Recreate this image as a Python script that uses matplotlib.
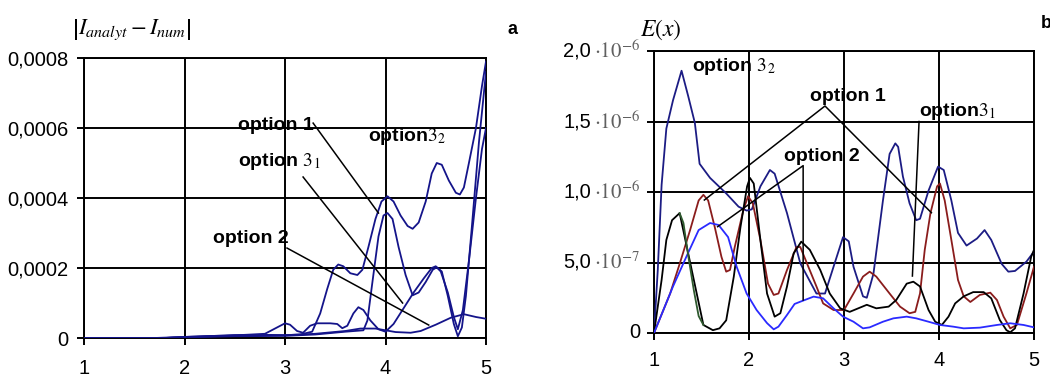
import matplotlib
matplotlib.use("Agg")
import matplotlib.pyplot as plt
import matplotlib.transforms as mtransforms

plt.rcParams['font.family'] = ['Liberation Sans', 'DejaVu Sans']
plt.rcParams['mathtext.fontset'] = 'stix'

# ---------------- panel a data (values in units of 1e-4) ----------------
a_x_opt32 = [1.0, 1.8, 2.0, 2.3, 2.6, 2.8, 3.0, 3.15, 3.27, 3.35, 3.42, 3.48, 3.53, 3.58, 3.65,
             3.72, 3.77, 3.83, 3.9, 3.96, 4.02, 4.08, 4.15, 4.22, 4.27, 4.33, 4.4, 4.46, 4.51,
             4.56, 4.63, 4.7, 4.74, 4.78, 4.83, 4.9, 4.96, 5.0]
a_y_opt32 = [0, 0, 0.03, 0.06, 0.08, 0.09, 0.08, 0.1, 0.18, 0.7, 1.4, 1.95, 2.1, 2.05, 1.85,
             1.8, 1.95, 2.6, 3.4, 3.9, 4.05, 3.9, 3.5, 3.2, 3.12, 3.3, 3.9, 4.7, 5.0,
             4.95, 4.5, 4.15, 4.1, 4.3, 5.0, 6.0, 7.2, 7.9]

a_x_opt1 = [1.0, 1.8, 2.0, 2.5, 3.0, 3.3, 3.6, 3.78, 3.82, 3.87, 3.93, 3.98, 4.02, 4.07, 4.13,
            4.2, 4.27, 4.33, 4.4, 4.47, 4.51, 4.56, 4.62, 4.68, 4.72, 4.76, 4.8, 4.86, 4.93, 5.0]
a_y_opt1 = [0, 0, 0.02, 0.05, 0.06, 0.1, 0.18, 0.22, 0.5, 1.6, 2.9, 3.5, 3.57, 3.4, 2.6,
            1.8, 1.22, 1.3, 1.6, 1.95, 2.02, 1.9, 1.2, 0.4, 0.05, 0.3, 1.2, 3.2, 5.6, 7.6]

a_x_opt31 = [1.0, 1.8, 2.0, 2.4, 2.8, 2.92, 3.0, 3.05, 3.12, 3.18, 3.25, 3.32, 3.45, 3.52, 3.57,
             3.62, 3.68, 3.73, 3.78, 3.85, 3.93, 4.0, 4.08, 4.18, 4.28, 4.38, 4.46, 4.5, 4.55,
             4.62, 4.68, 4.72, 4.77, 4.83, 4.9, 4.96, 5.0]
a_y_opt31 = [0, 0, 0.02, 0.06, 0.12, 0.3, 0.42, 0.38, 0.2, 0.15, 0.35, 0.42, 0.42, 0.4, 0.28,
             0.35, 0.7, 0.88, 0.8, 0.5, 0.25, 0.18, 0.4, 0.85, 1.3, 1.7, 2.0, 2.05, 1.9,
             1.3, 0.6, 0.25, 0.8, 2.2, 4.0, 5.4, 6.0]

a_x_opt2 = [1.0, 1.7, 2.0, 2.5, 3.0, 3.3, 3.6, 3.75, 3.9, 4.0, 4.1, 4.25, 4.35, 4.5, 4.65, 4.78, 4.9, 5.0]
a_y_opt2 = [0, 0, 0.03, 0.08, 0.08, 0.12, 0.2, 0.27, 0.27, 0.22, 0.17, 0.15, 0.2, 0.38, 0.58, 0.68, 0.6, 0.55]

a_yticks = [0, 0.0002, 0.0004, 0.0006, 0.0008]
a_yticklabels = ['0', '0,0002', '0,0004', '0,0006', '0,0008']
xticks = [1, 2, 3, 4, 5]

# ---------------- panel b data (values in units of 1e-6) ----------------
b_x_opt32 = [1.0, 1.04, 1.08, 1.13, 1.2, 1.29, 1.36, 1.43, 1.48, 1.59, 1.76, 1.89, 1.975, 2.03,
             2.12, 2.22, 2.27, 2.40, 2.54, 2.71, 2.80, 2.89, 2.99, 3.05, 3.10, 3.20, 3.24, 3.31,
             3.41, 3.48, 3.54, 3.57, 3.62, 3.69, 3.76, 3.80, 3.89, 3.99, 4.05, 4.13, 4.20, 4.29,
             4.40, 4.48, 4.55, 4.66, 4.73, 4.80, 4.92, 5.0]
b_y_opt32 = [0, 0.45, 1.05, 1.45, 1.65, 1.86, 1.68, 1.49, 1.2, 1.1, 0.99, 0.896, 0.868, 0.877,
             1.04, 1.156, 1.13, 0.85, 0.494, 0.28, 0.28, 0.47, 0.68, 0.65, 0.47, 0.26, 0.25, 0.42,
             0.94, 1.27, 1.345, 1.32, 1.11, 0.92, 0.80, 0.81, 1.01, 1.18, 1.156, 0.94, 0.71, 0.62,
             0.67, 0.73, 0.66, 0.49, 0.435, 0.44, 0.506, 0.577]

b_x_opt1 = [1.0, 1.17, 1.27, 1.38, 1.47, 1.52, 1.57, 1.64, 1.71, 1.76, 1.80, 1.85, 1.94, 1.99,
            2.04, 2.12, 2.20, 2.26, 2.31, 2.40, 2.50, 2.54, 2.61, 2.71, 2.78, 2.89, 3.0, 3.10,
            3.20, 3.27, 3.34, 3.48, 3.59, 3.69, 3.75, 3.80, 3.85, 3.91, 3.98, 4.01, 4.06, 4.13,
            4.20, 4.26, 4.33, 4.43, 4.54, 4.61, 4.68, 4.75, 4.82, 4.92, 5.0]
b_y_opt1 = [0, 0.28, 0.49, 0.73, 0.94, 0.98, 0.94, 0.75, 0.54, 0.435, 0.447, 0.61, 0.87, 0.97,
            0.92, 0.66, 0.35, 0.27, 0.28, 0.447, 0.61, 0.61, 0.494, 0.33, 0.21, 0.163, 0.163, 0.28,
            0.40, 0.435, 0.40, 0.28, 0.187, 0.14, 0.15, 0.28, 0.59, 0.85, 1.04, 1.06, 0.94, 0.66,
            0.376, 0.26, 0.22, 0.27, 0.286, 0.234, 0.116, 0.033, 0.057, 0.28, 0.47]

b_x_opt31_green = [1.27, 1.31, 1.36, 1.42, 1.47, 1.52]
b_y_opt31_green = [0.85, 0.78, 0.55, 0.3, 0.12, 0.057]

b_x_opt31 = [1.0, 1.08, 1.13, 1.19, 1.27, 1.52, 1.62, 1.69, 1.76, 1.84, 1.91, 1.98, 2.01, 2.05,
             2.12, 2.19, 2.27, 2.33, 2.40, 2.47, 2.55, 2.64, 2.75, 2.85, 2.96, 3.06, 3.15, 3.24,
             3.34, 3.47, 3.55, 3.66, 3.73, 3.80, 3.89, 3.96, 4.03, 4.10, 4.17, 4.26, 4.36, 4.47,
             4.55, 4.64, 4.71, 4.75, 4.80, 4.89, 4.97, 5.0]
b_y_opt31 = [0, 0.376, 0.66, 0.80, 0.85, 0.057, 0.02, 0.033, 0.09, 0.4, 0.75, 1.04, 1.1, 1.06,
             0.66, 0.28, 0.116, 0.14, 0.33, 0.565, 0.648, 0.59, 0.447, 0.28, 0.175, 0.15, 0.175, 0.2,
             0.175, 0.187, 0.234, 0.35, 0.364, 0.33, 0.163, 0.08, 0.057, 0.116, 0.21, 0.26, 0.29, 0.29,
             0.246, 0.092, 0.02, 0.005, 0.033, 0.28, 0.54, 0.59]

b_x_opt2 = [1.0, 1.20, 1.34, 1.47, 1.59, 1.68, 1.78, 1.87, 1.975, 2.08, 2.19, 2.26, 2.31, 2.40,
            2.48, 2.54, 2.68, 2.78, 2.89, 2.99, 3.10, 3.20, 3.27, 3.41, 3.52, 3.66, 3.76, 3.89,
            4.01, 4.15, 4.26, 4.43, 4.61, 4.75, 4.89, 5.0]
b_y_opt2 = [0, 0.33, 0.54, 0.73, 0.78, 0.766, 0.68, 0.47, 0.28, 0.163, 0.07, 0.026, 0.045, 0.128,
            0.206, 0.222, 0.258, 0.246, 0.175, 0.116, 0.08, 0.033, 0.04, 0.08, 0.104, 0.116, 0.104, 0.08,
            0.057, 0.045, 0.033, 0.038, 0.057, 0.069, 0.057, 0.04]

b_yticks = [0, 0.5e-6, 1.0e-6, 1.5e-6, 2.0e-6]
b_ytick_mant = ['0', '5,0', '1,0', '1,5', '2,0']
b_ytick_exp = ['', r'$\cdot10^{-7}$', r'$\cdot10^{-6}$', r'$\cdot10^{-6}$', r'$\cdot10^{-6}$']

NAVY = '#14148a'
DARKBLUE_B = '#1c1c84'
DARKRED = '#8a1c1c'
BLUE = '#2a2aff'
GREEN = '#2e5a2e'

fig = plt.figure(figsize=(10.5, 3.9), dpi=100)
axa = fig.add_axes([84/1050, 1-338/390, (486-84)/1050, (338-58)/390])
axb = fig.add_axes([654/1050, 1-333/390, (1034-654)/1050, (333-51)/390])

def style(ax, yt, ymax):
    ax.set_xlim(1, 5)
    ax.set_ylim(0, ymax)
    ax.set_xticks(xticks)
    ax.set_xticklabels([str(v) for v in xticks])
    ax.set_yticks(yt)
    ax.grid(True, color='black', linewidth=1.4)
    ax.set_axisbelow(True)
    for s in ax.spines.values():
        s.set_linewidth(1.4)
        s.set_color('black')
    ax.tick_params(axis='both', length=5, width=1.4, labelsize=14.5, colors='black')
    ax.tick_params(axis='y', pad=6.5)
    ax.tick_params(axis='x', pad=10)

# ---- panel a ----
sc = 1e-4
lw = 1.3
axa.plot(a_x_opt32, [v*sc for v in a_y_opt32], color=NAVY, lw=lw, zorder=3)
axa.plot(a_x_opt1, [v*sc for v in a_y_opt1], color=NAVY, lw=lw, zorder=3)
axa.plot(a_x_opt31, [v*sc for v in a_y_opt31], color=NAVY, lw=lw, zorder=3)
axa.plot(a_x_opt2, [v*sc for v in a_y_opt2], color=NAVY, lw=lw, zorder=3)
style(axa, a_yticks, 0.0008)
axa.set_yticklabels(a_yticklabels)

bold = dict(fontsize=14, fontweight='bold', color='black')
axa.text(2.53, 0.000608, 'option 1', ha='left', va='center', **bold)
axa.text(2.53, 0.000505, r'option $3_1$', ha='left', va='center', **bold)
axa.text(2.28, 0.000285, 'option 2', ha='left', va='center', **bold)
axa.text(3.83, 0.000577, r'option$3_2$', ha='left', va='center', **bold)
axa.plot([3.28, 3.93], [0.000614, 0.000357], color='black', lw=1.1, zorder=4)
axa.plot([3.18, 4.17], [0.00046, 0.0001], color='black', lw=1.1, zorder=4)
axa.plot([3.02, 4.43], [0.000257, 0.000037], color='black', lw=1.1, zorder=4)
axa.text(-0.03, 1.10, r'$\left|I_{analyt}-I_{num}\right|$', transform=axa.transAxes,
         ha='left', va='center', fontsize=16.5)
fig.text(513/1050, 1-30/390, 'a', fontsize=13, fontweight='bold', ha='center', va='center')

# ---- panel b ----
sb = 1e-6
axb.plot(b_x_opt32, [v*sb for v in b_y_opt32], color=DARKBLUE_B, lw=lw, zorder=3)
axb.plot(b_x_opt1, [v*sb for v in b_y_opt1], color=DARKRED, lw=lw, zorder=3)
axb.plot(b_x_opt31, [v*sb for v in b_y_opt31], color='black', lw=lw, zorder=3)
axb.plot(b_x_opt31_green, [v*sb for v in b_y_opt31_green], color=GREEN, lw=lw, zorder=4)
axb.plot(b_x_opt2, [v*sb for v in b_y_opt2], color=BLUE, lw=lw, zorder=3)
style(axb, b_yticks, 2.0e-6)
axb.set_yticklabels([''] * len(b_yticks))
axb.tick_params(axis='x', pad=8)

btrans = mtransforms.blended_transform_factory(fig.transFigure, axb.transData)
for yv, m, e in zip(b_yticks, b_ytick_mant, b_ytick_exp):
    if e:
        axb.text(591/1050, yv, m, transform=btrans, ha='right', va='center', fontsize=14.5,
                 color='black', clip_on=False)
        axb.text(594/1050, yv, e, transform=btrans, ha='left', va='center', fontsize=15,
                 color='#606060', clip_on=False)
    else:
        axb.text(640/1050, yv, m, transform=btrans, ha='right', va='center', fontsize=14.5,
                 color='black', clip_on=False)

axb.text(1.40, 1.89e-6, r'option $3_2$', ha='left', va='center', **bold)
axb.text(2.64, 1.68e-6, 'option 1', ha='left', va='center', **bold)
axb.text(2.37, 1.25e-6, 'option 2', ha='left', va='center', **bold)
axb.text(3.79, 1.57e-6, r'option$3_1$', ha='left', va='center', **bold)
axb.plot([1.53, 2.80, 3.92], [0.943e-6, 1.61e-6, 0.853e-6], color='black', lw=1.1, zorder=5)
axb.plot([1.67, 2.57, 2.57], [0.754e-6, 1.187e-6, 0.234e-6], color='black', lw=1.1, zorder=5)
axb.plot([3.79, 3.72], [1.5e-6, 0.404e-6], color='black', lw=1.1, zorder=5)
fig.text(661/1050, 1-30/390, r'$E(x)$', ha='center', va='center', fontsize=17)
fig.text(1046/1050, 1-23/390, 'b', fontsize=13, fontweight='bold', ha='center', va='center')

fig.savefig('out.png', dpi=100)
